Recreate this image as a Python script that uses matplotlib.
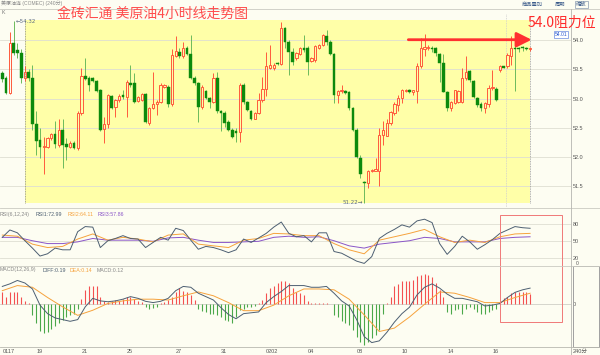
import numpy as np
import matplotlib
matplotlib.use('Agg')
import matplotlib.pyplot as plt
from matplotlib.patches import Rectangle
from matplotlib.lines import Line2D

plt.rcParams['font.family'] = ['Liberation Sans', 'Noto Sans CJK SC', 'DejaVu Sans']

# 4h candles
opens = [53.43, 53.35, 53.10, 53.95, 53.83, 53.78, 53.36, 53.45, 53.36, 52.56,
         52.30, 52.18, 52.18, 52.32, 52.40, 52.20, 52.47, 52.23, 52.18, 52.24,
         52.15, 52.75, 53.38, 53.36, 53.35, 53.30, 53.15, 52.48, 52.56, 53.05,
         52.85, 52.98, 53.06, 53.03, 53.26, 53.26, 52.96, 52.98, 53.07, 52.58,
         52.84, 52.90, 52.94, 53.20, 53.20, 52.90, 53.73, 53.79, 53.72, 53.87,
         53.76, 53.36, 53.26, 52.86, 53.13, 53.01, 52.94, 53.35, 52.78, 52.75,
         52.60, 52.47, 52.44, 52.43, 53.23, 52.95, 52.78, 52.66, 52.75, 52.98,
         53.16, 53.52, 53.53, 53.61, 53.59, 54.20, 53.97, 53.80, 53.69, 53.76,
         53.86, 53.86, 53.65, 53.66, 53.86, 53.91, 54.07, 53.97, 53.76, 53.06,
         53.13, 53.13, 53.12, 52.84, 52.47, 51.99, 51.58, 51.56, 51.76, 51.77,
         51.77, 52.38, 52.37, 52.58, 52.76, 52.89, 53.01, 53.13, 53.15, 53.12,
         53.13, 53.55, 53.84, 53.86, 53.87, 53.87, 53.76, 53.60, 53.11, 52.84,
         52.93, 52.94, 52.94, 53.35, 53.47, 53.30, 53.01, 52.90, 52.84, 52.90,
         53.18, 53.16, 53.49, 53.55, 53.55, 53.72, 53.86, 53.86, 53.875, 53.86,
         53.84]
highs = [53.47, 53.38, 54.14, 54.32, 53.95, 53.85, 53.55, 53.50, 53.57, 52.78,
         52.49, 52.35, 52.35, 52.41, 52.61, 52.66, 52.66, 52.32, 52.27, 52.27,
         52.78, 53.53, 53.69, 53.38, 53.37, 53.32, 53.16, 52.69, 53.07, 53.06,
         53.00, 53.08, 53.15, 53.32, 53.57, 53.43, 53.05, 53.09, 53.09, 52.85,
         53.46, 52.98, 53.26, 53.25, 53.23, 53.85, 54.06, 53.86, 53.97, 53.89,
         54.09, 53.38, 53.29, 53.23, 53.15, 53.02, 53.43, 53.46, 52.81, 52.78,
         52.64, 52.50, 52.50, 53.26, 53.26, 52.96, 52.80, 52.77, 53.09, 53.37,
         53.80, 53.91, 53.60, 53.63, 54.30, 54.22, 54.00, 53.86, 53.79, 53.88,
         54.09, 53.89, 53.71, 53.91, 53.93, 54.11, 54.17, 54.00, 53.77, 53.15,
         53.23, 53.14, 53.13, 52.86, 52.49, 52.04, 51.59, 51.78, 51.79, 51.98,
         52.49, 52.61, 52.66, 52.78, 52.94, 53.06, 53.16, 53.16, 53.16, 53.15,
         53.60, 54.03, 54.11, 53.91, 53.89, 53.88, 53.77, 53.76, 53.13, 52.96,
         53.15, 53.15, 53.52, 53.72, 53.49, 53.32, 53.03, 52.94, 52.94, 53.23,
         53.49, 53.19, 53.57, 53.56, 53.77, 54.06, 53.91, 53.88, 53.89, 53.88,
         53.88]
lows = [53.29, 53.07, 53.08, 53.75, 53.70, 53.27, 53.30, 53.30, 52.47, 52.04,
        51.98, 51.71, 52.15, 52.30, 52.15, 52.18, 51.81, 51.95, 52.15, 52.14,
        52.12, 52.72, 53.32, 53.13, 53.28, 53.12, 52.44, 52.24, 52.49, 52.82,
        52.69, 52.95, 53.00, 52.68, 53.20, 52.92, 52.94, 52.96, 52.58, 52.55,
        52.82, 52.72, 52.92, 53.18, 52.86, 52.88, 53.71, 53.70, 53.70, 53.74,
        53.34, 53.23, 52.60, 52.83, 52.99, 52.84, 52.92, 52.75, 52.44, 52.52,
        52.45, 52.33, 52.26, 52.26, 52.91, 52.79, 52.63, 52.65, 52.74, 52.95,
        53.05, 53.50, 53.49, 53.57, 53.57, 53.86, 53.40, 53.57, 53.66, 53.74,
        53.80, 53.40, 53.63, 53.63, 53.84, 53.89, 53.91, 53.74, 52.92, 52.92,
        53.09, 53.08, 52.81, 52.45, 51.98, 51.64, 51.22, 51.47, 51.74, 51.76,
        51.50, 52.21, 52.36, 52.55, 52.72, 52.78, 52.92, 53.12, 53.10, 53.06,
        52.92, 53.52, 53.72, 53.83, 53.80, 53.72, 53.29, 53.11, 52.78, 52.78,
        52.91, 52.92, 52.92, 53.32, 53.29, 53.01, 52.86, 52.78, 52.75, 52.86,
        53.15, 52.96, 53.46, 53.52, 53.52, 53.57, 53.13, 53.80, 53.82, 53.83,
        53.82]
closes = [53.34, 53.10, 53.95, 53.78, 53.77, 53.35, 53.45, 53.36, 52.56, 52.28,
          52.18, 52.19, 52.32, 52.40, 52.22, 52.47, 52.21, 52.17, 52.24, 52.16,
          52.75, 53.38, 53.33, 53.23, 53.30, 53.13, 52.47, 52.56, 53.06, 52.84,
          52.98, 53.05, 53.03, 53.29, 53.24, 52.95, 53.03, 53.07, 52.60, 52.84,
          52.90, 52.94, 53.23, 53.23, 52.90, 53.74, 53.81, 53.72, 53.87, 53.76,
          53.36, 53.26, 52.86, 53.20, 53.01, 52.94, 53.35, 52.78, 52.75, 52.58,
          52.47, 52.35, 52.42, 53.23, 52.94, 52.81, 52.66, 52.75, 52.98, 53.16,
          53.55, 53.57, 53.58, 53.59, 54.20, 53.97, 53.80, 53.63, 53.77, 53.86,
          53.83, 53.63, 53.69, 53.89, 53.91, 54.09, 53.97, 53.76, 53.06, 53.13,
          53.135, 53.09, 52.84, 52.47, 52.01, 51.71, 51.56, 51.76, 51.78, 51.80,
          52.38, 52.47, 52.58, 52.77, 52.90, 53.01, 53.15, 53.15, 53.11, 53.14,
          53.55, 53.86, 53.875, 53.875, 53.84, 53.77, 53.61, 53.12, 52.84, 52.94,
          53.14, 53.13, 53.35, 53.46, 53.32, 53.03, 52.89, 52.84, 52.92, 53.18,
          53.19, 52.98, 53.55, 53.53, 53.74, 53.86, 53.84, 53.84, 53.86, 53.85,
          53.86]

# RSI(6,12,24), read every 2nd / 4th candle
rsi1 = [57, 70, 65, 51, 38, 24, 28, 38, 35, 35,
        67, 76, 75, 39, 51, 55, 60, 55, 54, 39,
        48, 57, 52, 73, 69, 52, 36, 41, 39, 35,
        30, 35, 54, 48, 56, 64, 75, 84, 64, 58,
        60, 49, 65, 65, 32, 29, 22, 15, 11, 23,
        55, 64, 71, 79, 75, 86, 89, 83, 46, 27,
        41, 59, 49, 36, 44, 53, 64, 70, 76, 74,
        73]
rsi2 = [61, 59, 45, 39, 41, 54, 63, 52, 57, 54,
        49, 61, 63, 45, 42, 39, 52, 55, 64, 63,
        60, 60, 46, 35, 28, 52, 58, 64, 71, 58,
        48, 52, 48, 58, 63, 64]
rsi3 = [57, 57, 51, 46, 46, 49, 55, 52, 52, 52,
        50, 56, 57, 52, 48, 48, 49, 50, 57, 59,
        57, 58, 51, 42, 38, 45, 48, 51, 57, 55,
        49, 49, 49, 55, 57, 58]

# MACD(12,26,9)
diff = [0.21, 0.24, 0.28, 0.25, 0.18, -0.01, -0.11, -0.16, -0.18, -0.20,
        -0.18, -0.03, 0.07, 0.04, 0.03, 0.04, 0.06, 0.09, 0.07, 0.035,
        0.02, 0.035, 0.07, 0.16, 0.21, 0.20, 0.13, 0.09, 0.05, -0.04,
        -0.12, -0.17, -0.11, -0.10, -0.09, 0.02, 0.09, 0.15, 0.22, 0.22,
        0.22, 0.20, 0.20, 0.21, 0.13, 0.04, -0.02, -0.18, -0.38, -0.45,
        -0.43, -0.33, -0.21, -0.11, -0.035, 0.11, 0.20, 0.24, 0.19, 0.12,
        0.07, 0.07, 0.05, 0.03, -0.02, -0.01, 0.01, 0.08, 0.14, 0.17,
        0.19]
dea = [0.16, 0.22, 0.20, 0.08, -0.03, -0.13, -0.07, 0.01, 0.04, 0.06,
       0.06, 0.05, 0.10, 0.145, 0.10, 0.02, -0.075, -0.075, -0.01, 0.10,
       0.18, 0.18, 0.17, 0.06, -0.125, -0.32, -0.28, -0.15, 0.00, 0.145,
       0.13, 0.08, 0.02, 0.02, 0.08, 0.13]
macd = [0.14, 0.09, 0.15, 0.15, 0.14, 0.08, 0.04, 0.02, -0.125, -0.22,
        -0.31, -0.34, -0.32, -0.29, -0.26, -0.22, -0.18, -0.15, -0.125, -0.11,
        -0.05, 0.06, 0.17, 0.22, 0.22, 0.21, 0.09, 0.04, 0.03, 0.04,
        0.05, 0.04, 0.06, 0.08, 0.08, 0.06, 0.04, 0.03, -0.03, -0.05,
        -0.04, -0.03, 0.02, 0.03, 0.05, 0.09, 0.15, 0.19, 0.16, 0.15,
        0.11, 0.05, -0.06, -0.075, -0.09, -0.11, -0.11, -0.125, -0.15, -0.18,
        -0.20, -0.215, -0.15, -0.065, -0.05, -0.03, -0.03, -0.02, 0.02, 0.05,
        0.13, 0.19, 0.21, 0.25, 0.27, 0.27, 0.25, 0.19, 0.15, 0.13,
        0.11, 0.04, 0.02, 0.01, 0.01, 0.02, 0.02, 0.0, -0.125, -0.15,
        -0.20, -0.22, -0.24, -0.30, -0.38, -0.44, -0.48, -0.44, -0.40, -0.36,
        -0.30, -0.11, 0.01, 0.08, 0.22, 0.24, 0.27, 0.27, 0.27, 0.29,
        0.33, 0.345, 0.36, 0.345, 0.32, 0.25, 0.17, 0.09, -0.09, -0.11,
        -0.07, -0.06, -0.11, -0.05, -0.035, -0.06, -0.09, -0.11, -0.11, -0.09,
        -0.07, -0.05, 0.03, 0.07, 0.09, 0.13, 0.15, 0.15, 0.15, 0.14,
        0.12]

day_ticks = [0, 9, 21, 33, 46, 58, 70, 81, 94, 106, 118, 130]
day_labels = ['0117', '19', '21', '25', '27', '31', '0202', '04', '08', '10', '14', '16']
price_levels = [51.5, 52.0, 52.5, 53.0, 53.5, 54.0]
price_max, price_min = 54.32, 51.22
resistance = 54.0

BG = '#fdfdf2'
UP = '#ff5a3c'
DOWN = '#0c8a0c'
DOWN_WICK = '#6cba5c'
SLATE = '#4d5f72'
ORANGE = '#f6a23c'
PURPLE = '#8a55c8'
GRID = '#deded2'

W, H = 600, 355
fx = lambda x: x / W
fy = lambda y: 1 - y / H
XL = (-0.61, 150.85)

fig = plt.figure(figsize=(6, 3.55), dpi=100, facecolor=BG)
ax = fig.add_axes([0, fy(207), fx(571), 197 / H])
ax_rsi = fig.add_axes([0, fy(265), fx(571), 56 / H])
ax_macd = fig.add_axes([0, fy(347), fx(571), 81 / H])
for a in (ax, ax_rsi, ax_macd):
    a.set_facecolor('none')
    a.set_xlim(*XL)
    for s in a.spines.values():
        s.set_visible(False)
    a.yaxis.tick_right()
    a.tick_params(length=0, pad=1.5, labelsize=4, labelcolor='#555555')
    a.set_xticks([])

# ---- price panel
o, h, l, c = map(np.array, (opens, highs, lows, closes))
x = np.arange(len(o))
up = c >= o
ax.set_ylim(51.150, 54.512)
ax.set_yticks(price_levels)
ax.set_yticklabels([f'{p:.1f}' for p in price_levels])
ax.add_patch(Rectangle((5.95, price_min), 140.05 - 5.95, price_max + 0.02 - price_min,
                       facecolor='#ffffa8', edgecolor='none', zorder=0))
for p in price_levels:
    ax.axhline(p, color=GRID, lw=0.6, zorder=1)
ax.vlines([5.95], price_min, price_max + 0.02, colors='#8a8a8a', lw=0.6, linestyles=(0, (1, 1)), zorder=2)
ax.vlines([140.05], price_min, 54.40, colors='#9a9a9a', lw=0.6, linestyles=(0, (1, 1)), zorder=2)
ax.vlines([133.6], 51.10, 54.45, colors='#cfcfcf', lw=0.6, linestyles=(0, (1, 1)), zorder=2)

top = np.maximum(o, c)
bot = np.minimum(o, c)
ax.vlines(x[~up], l[~up], h[~up], colors=DOWN_WICK, lw=0.7, zorder=3)
ax.vlines(x[up], top[up], h[up], colors=UP, lw=0.7, zorder=3)
ax.vlines(x[up], l[up], bot[up], colors=UP, lw=0.7, zorder=3)
ax.bar(x[~up], np.maximum(top - bot, 0.01)[~up], bottom=bot[~up], width=0.72,
       color=DOWN, edgecolor=DOWN, lw=0.3, zorder=4)
ax.bar(x[up], np.maximum(top - bot, 0.01)[up], bottom=bot[up], width=0.62,
       facecolor='none', edgecolor=UP, lw=0.7, zorder=4)

ax.text(3.6, price_max, '←' + f'{price_max:.2f}', fontsize=4, color='#5a6a80',
        va='center', ha='left', family=['DejaVu Sans'])
ax.text(95.6, price_min, f'{price_min:.2f}' + '→', fontsize=4, color='#5a6a80',
        va='center', ha='right', family=['DejaVu Sans'])
ax.annotate('', xy=(140.4, resistance + 0.005), xytext=(107.7, resistance + 0.005),
            arrowprops=dict(arrowstyle='-|>,head_length=0.9,head_width=0.45',
                            color='#ff3030', lw=2.0, shrinkA=0, shrinkB=0, mutation_scale=10),
            annotation_clip=False, zorder=6)

# ---- RSI panel
ax_rsi.set_ylim(8.2, 107.0)
ax_rsi.set_yticks([20, 50, 80])
for v in (20, 50, 80):
    ax_rsi.axhline(v, color=GRID, lw=0.6, zorder=1)
ax_rsi.plot(x[::4], rsi3, color=PURPLE, lw=0.7, zorder=3)
ax_rsi.plot(x[::4], rsi2, color=ORANGE, lw=0.7, zorder=3)
ax_rsi.plot(x[::2], rsi1, color=SLATE, lw=0.7, zorder=4)

# ---- MACD panel
ax_macd.set_ylim(-0.502, 0.45)
ax_macd.set_yticks([0])
ax_macd.axhline(0, color='#cfcfc6', lw=0.6, zorder=1)
m = np.array(macd)
ax_macd.vlines(x, 0, m, colors=np.where(m >= 0, '#f45050', '#4aa84a'), lw=0.8, zorder=2)
ax_macd.plot(x[::4], dea, color=ORANGE, lw=0.7, zorder=3)
ax_macd.plot(x[::2], diff, color=SLATE, lw=0.7, zorder=4)
ax_macd.set_xticks(day_ticks)
ax_macd.set_xticklabels(day_labels)
ax_macd.tick_params(axis='x', length=0, pad=1.2, labelsize=4, labelcolor='#555555')
for t in ax_macd.get_xticklabels():
    t.set_horizontalalignment('left')

# ---- frame lines and boxes
def hline(y, x0=0, x1=600, color='#cacac2'):
    fig.add_artist(Line2D([fx(x0), fx(x1)], [fy(y), fy(y)], transform=fig.transFigure, color=color, lw=0.6))

hline(9)
hline(208)
hline(265.5)
hline(347, color='#b8b8b0')
fig.add_artist(Line2D([fx(571), fx(571)], [fy(9), fy(355)], transform=fig.transFigure, color='#b5b5b0', lw=0.6))
fig.add_artist(Rectangle((fx(572.5), fy(347)), fx(26), 81 / H, transform=fig.transFigure,
                         fill=False, edgecolor='#a0a0a0', lw=0.7))
fig.add_artist(Rectangle((fx(500), fy(322)), fx(62), 107 / H, transform=fig.transFigure,
                         fill=False, edgecolor='#f07878', lw=0.7))

# ---- texts
fig.text(fx(1), fy(3.5), '美原油连 (COMEC) (240分)', fontsize=3.6, color='#8a8a8a', va='center')
fig.text(fx(1.5), fy(13), 'K', fontsize=3.8, color='#777777', va='center')
fig.text(fx(522), fy(4.5), '商品叠加', fontsize=3.8, color='#3a5a8a', va='center')
fig.text(fx(555), fy(4.5), '周期', fontsize=3.8, color='#3a5a8a', va='center')
fig.text(fx(576), fy(4.5), '缩放', fontsize=3.8, color='#3a5a8a', va='center',
         bbox=dict(boxstyle='square,pad=0.2', fc='none', ec='#8a9ab0', lw=0.5))
fig.text(fx(57), fy(14), '金砖汇通 美原油4小时线走势图', fontsize=10, color='#ff4d4d',
         va='center', family=['Noto Sans CJK SC'])
fig.text(fx(528), fy(22.5), f'{resistance:.1f}阻力位', fontsize=10, color='#ff2a2a',
         va='center', family=['Noto Sans CJK SC'])
fig.text(fx(554.5), fy(34.5), '54.01', fontsize=3.6, color='#2a5ad0', va='center',
         bbox=dict(boxstyle='square,pad=0.15', fc='white', ec='#6a8ae0', lw=0.5))
fig.text(fx(576), fy(263.5), '0', fontsize=3.6, color='#555555', va='center')
fig.text(fx(573), fy(351), '240分', fontsize=4, color='#555555', va='center')

for xp, s, col in [(0, 'RSI(6,12,24)', '#888888'), (36, 'RSI1:72.99', SLATE),
                   (68, 'RSI2:64.11', ORANGE), (98, 'RSI3:57.86', PURPLE)]:
    fig.text(fx(xp), fy(214.5), s, fontsize=3.8, color=col, va='center')
for xp, s, col in [(0, 'MACD(12,26,9)', '#888888'), (43, 'DIFF:0.19', SLATE),
                   (70, 'DEA:0.14', ORANGE), (97, 'MACD:0.12', '#888888')]:
    fig.text(fx(xp), fy(270), s, fontsize=3.8, color=col, va='center')

fig.savefig('out.png', dpi=100, facecolor=BG)
